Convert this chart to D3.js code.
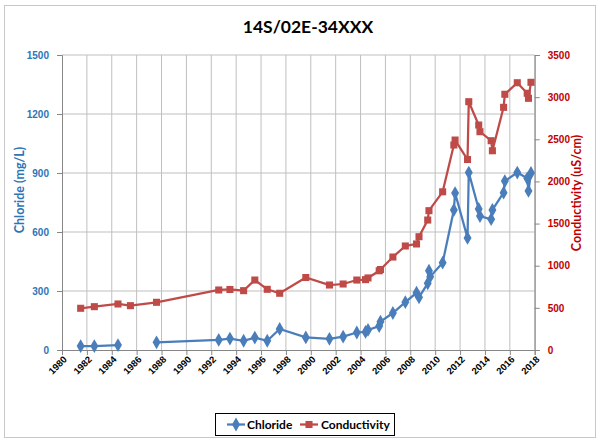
<!DOCTYPE html>
<html><head><meta charset="utf-8">
<script src="https://cdn.jsdelivr.net/npm/d3@7"></script>
<style>body{margin:0;background:#fff;} svg{display:block;font-family:Lato,"Liberation Sans",sans-serif;}</style>
</head><body><svg id="c" width="600" height="440"></svg>
<script>
const chartTitle = "14S/02E-34XXX";
const chlorideDates = [1981.5,1982.6,1984.5,1985.5,1987.6,1992.6,1993.5,1994.6,1995.5,1996.5,1997.5,1999.6,2001.5,2002.6,2003.7,2004.4,2004.6,2005.5,2005.6,2006.6,2007.6,2008.5,2008.7,2009.4,2009.5,2009.6,2010.6,2011.5,2011.6,2012.6,2012.7,2013.5,2013.6,2014.5,2014.6,2015.5,2015.6,2016.6,2017.4,2017.5,2017.7];
const chlorideValues = [20,20,25,null,39,51,58,47,63,47,107,64,57,68,89,92,102,122,144,188,243,291,268,339,403,373,444,712,798,570,902,717,681,665,712,800,859,902,873,809,900];
const conductivityDates = [1981.5,1982.6,1984.5,1985.5,1987.6,1992.6,1993.5,1994.6,1995.5,1996.5,1997.5,1999.6,2001.5,2002.6,2003.7,2004.4,2004.6,2005.5,2005.6,2006.6,2007.6,2008.5,2008.7,2009.4,2009.5,2010.6,2011.5,2011.6,2012.6,2012.7,2013.5,2013.6,2014.5,2014.6,2015.5,2015.6,2016.6,2017.4,2017.5,2017.7];
const conductivityValues = [495,514,546,526,566,712,718,704,830,720,673,860,771,783,830,835,855,940,955,1103,1234,1258,1344,1542,1653,1877,2432,2491,2260,2946,2669,2590,2483,2364,2879,3034,3171,3046,2986,3176];
const yearTicks = d3.range(1980, 2019, 2);
const chlorideTicks = [0,300,600,900,1200,1500];
const conductivityTicks = [0,500,1000,1500,2000,2500,3000,3500];
const seriesNames = ["Chloride","Conductivity"];

const blue = "#4A7EBB", red = "#BE4B48", blueText = "#2E75B6", redText = "#C00000", grid = "#BFBFBF", axisCol = "#868686";
const svg = d3.select("#c");
const L = 62, R = 534.7, T = 55, B = 350;
const x = d3.scaleLinear().domain([1980, 2018]).range([L, R]);
const yL = d3.scaleLinear().domain([0, 1500]).range([B, T]);
const yR = d3.scaleLinear().domain([0, 3500]).range([B, T]);
const fmt = d3.format("d");

svg.append("rect").attr("x",4.5).attr("y",5.5).attr("width",591).attr("height",432).attr("fill","#fff").attr("stroke","#C8C8C8");

svg.append("text").attr("x",308).attr("y",33).attr("text-anchor","middle").attr("font-size",17.5).attr("font-weight","bold").attr("fill","#000").text(chartTitle);

// gridlines
svg.append("g").selectAll("line").data(yearTicks.filter(d=>d>1980)).join("line")
  .attr("x1",d=>x(d)).attr("x2",d=>x(d)).attr("y1",T).attr("y2",B).attr("stroke",grid);
svg.append("g").selectAll("line").data(chlorideTicks.filter(d=>d>0)).join("line")
  .attr("x1",L).attr("x2",R).attr("y1",d=>yL(d)).attr("y2",d=>yL(d)).attr("stroke",grid);

// axes
const gx = svg.append("g").attr("transform",`translate(0,${B})`).call(d3.axisBottom(x).tickValues(yearTicks).tickSize(5).tickFormat(fmt));
gx.select(".domain").attr("stroke",axisCol);
gx.selectAll(".tick line").attr("stroke",axisCol);
gx.selectAll(".tick text").attr("font-size",9.5).attr("font-weight","bold").attr("fill","#000")
  .attr("text-anchor","end").attr("dy",0).attr("y",0).attr("transform","translate(5,10) rotate(-45)");

const gl = svg.append("g").attr("transform",`translate(${L},0)`).call(d3.axisLeft(yL).tickValues(chlorideTicks).tickSize(5).tickPadding(8).tickFormat(fmt));
gl.select(".domain").attr("stroke",axisCol);
gl.selectAll(".tick line").attr("stroke",axisCol);
gl.selectAll(".tick text").attr("font-size",10).attr("font-weight","bold").attr("fill",blueText);

const gr = svg.append("g").attr("transform",`translate(${R},0)`).call(d3.axisRight(yR).tickValues(conductivityTicks).tickSize(5).tickPadding(8).tickFormat(fmt));
gr.select(".domain").attr("stroke",axisCol);
gr.selectAll(".tick line").attr("stroke",axisCol);
gr.selectAll(".tick text").attr("font-size",10).attr("font-weight","bold").attr("fill",redText);

svg.append("text").attr("transform","translate(24,190) rotate(-90)").attr("text-anchor","middle").attr("font-size",12.5).attr("font-weight","bold").attr("fill",blueText).text("Chloride (mg/L)");
svg.append("text").attr("transform","translate(581,193) rotate(-90)").attr("text-anchor","middle").attr("font-size",12.5).attr("font-weight","bold").attr("fill",redText).text("Conductivity (uS/cm)");

// series
const clData = chlorideDates.map((d,i)=>({d, v: chlorideValues[i]}));
const ecData = conductivityDates.map((d,i)=>({d, v: conductivityValues[i]}));
const diamond = d3.symbol().type(d3.symbolDiamond).size(55);
const square = d3.symbol().type(d3.symbolSquare).size(50);

svg.append("path").datum(ecData).attr("fill","none").attr("stroke",red).attr("stroke-width",2.25)
  .attr("d", d3.line().defined(p=>p.v!=null).x(p=>x(p.d)).y(p=>yR(p.v)));
svg.append("path").datum(clData).attr("fill","none").attr("stroke",blue).attr("stroke-width",2.25)
  .attr("d", d3.line().defined(p=>p.v!=null).x(p=>x(p.d)).y(p=>yL(p.v)));
svg.append("g").selectAll("path").data(ecData.filter(p=>p.v!=null)).join("path")
  .attr("d",square).attr("transform",p=>`translate(${x(p.d)},${yR(p.v)})`).attr("fill",red);
svg.append("g").selectAll("path").data(clData.filter(p=>p.v!=null)).join("path")
  .attr("d",diamond).attr("transform",p=>`translate(${x(p.d)},${yL(p.v)})`).attr("fill",blue);

// legend
const lg = svg.append("g");
lg.append("rect").attr("x",215.5).attr("y",413.5).attr("width",179).attr("height",22).attr("fill","#fff").attr("stroke","#000");
const items = [{n:seriesNames[0], c:blue, s:diamond, x:227, tx:247},{n:seriesNames[1], c:red, s:square, x:300, tx:321}];
items.forEach(it=>{
  lg.append("line").attr("x1",it.x).attr("x2",it.x+18).attr("y1",424.5).attr("y2",424.5).attr("stroke",it.c).attr("stroke-width",2.25);
  lg.append("path").attr("d",it.s).attr("transform",`translate(${it.x+9},424.5)`).attr("fill",it.c);
  lg.append("text").attr("x",it.tx).attr("y",429).attr("font-size",12).attr("font-weight","bold").attr("fill","#000").text(it.n);
});
</script></body></html>
